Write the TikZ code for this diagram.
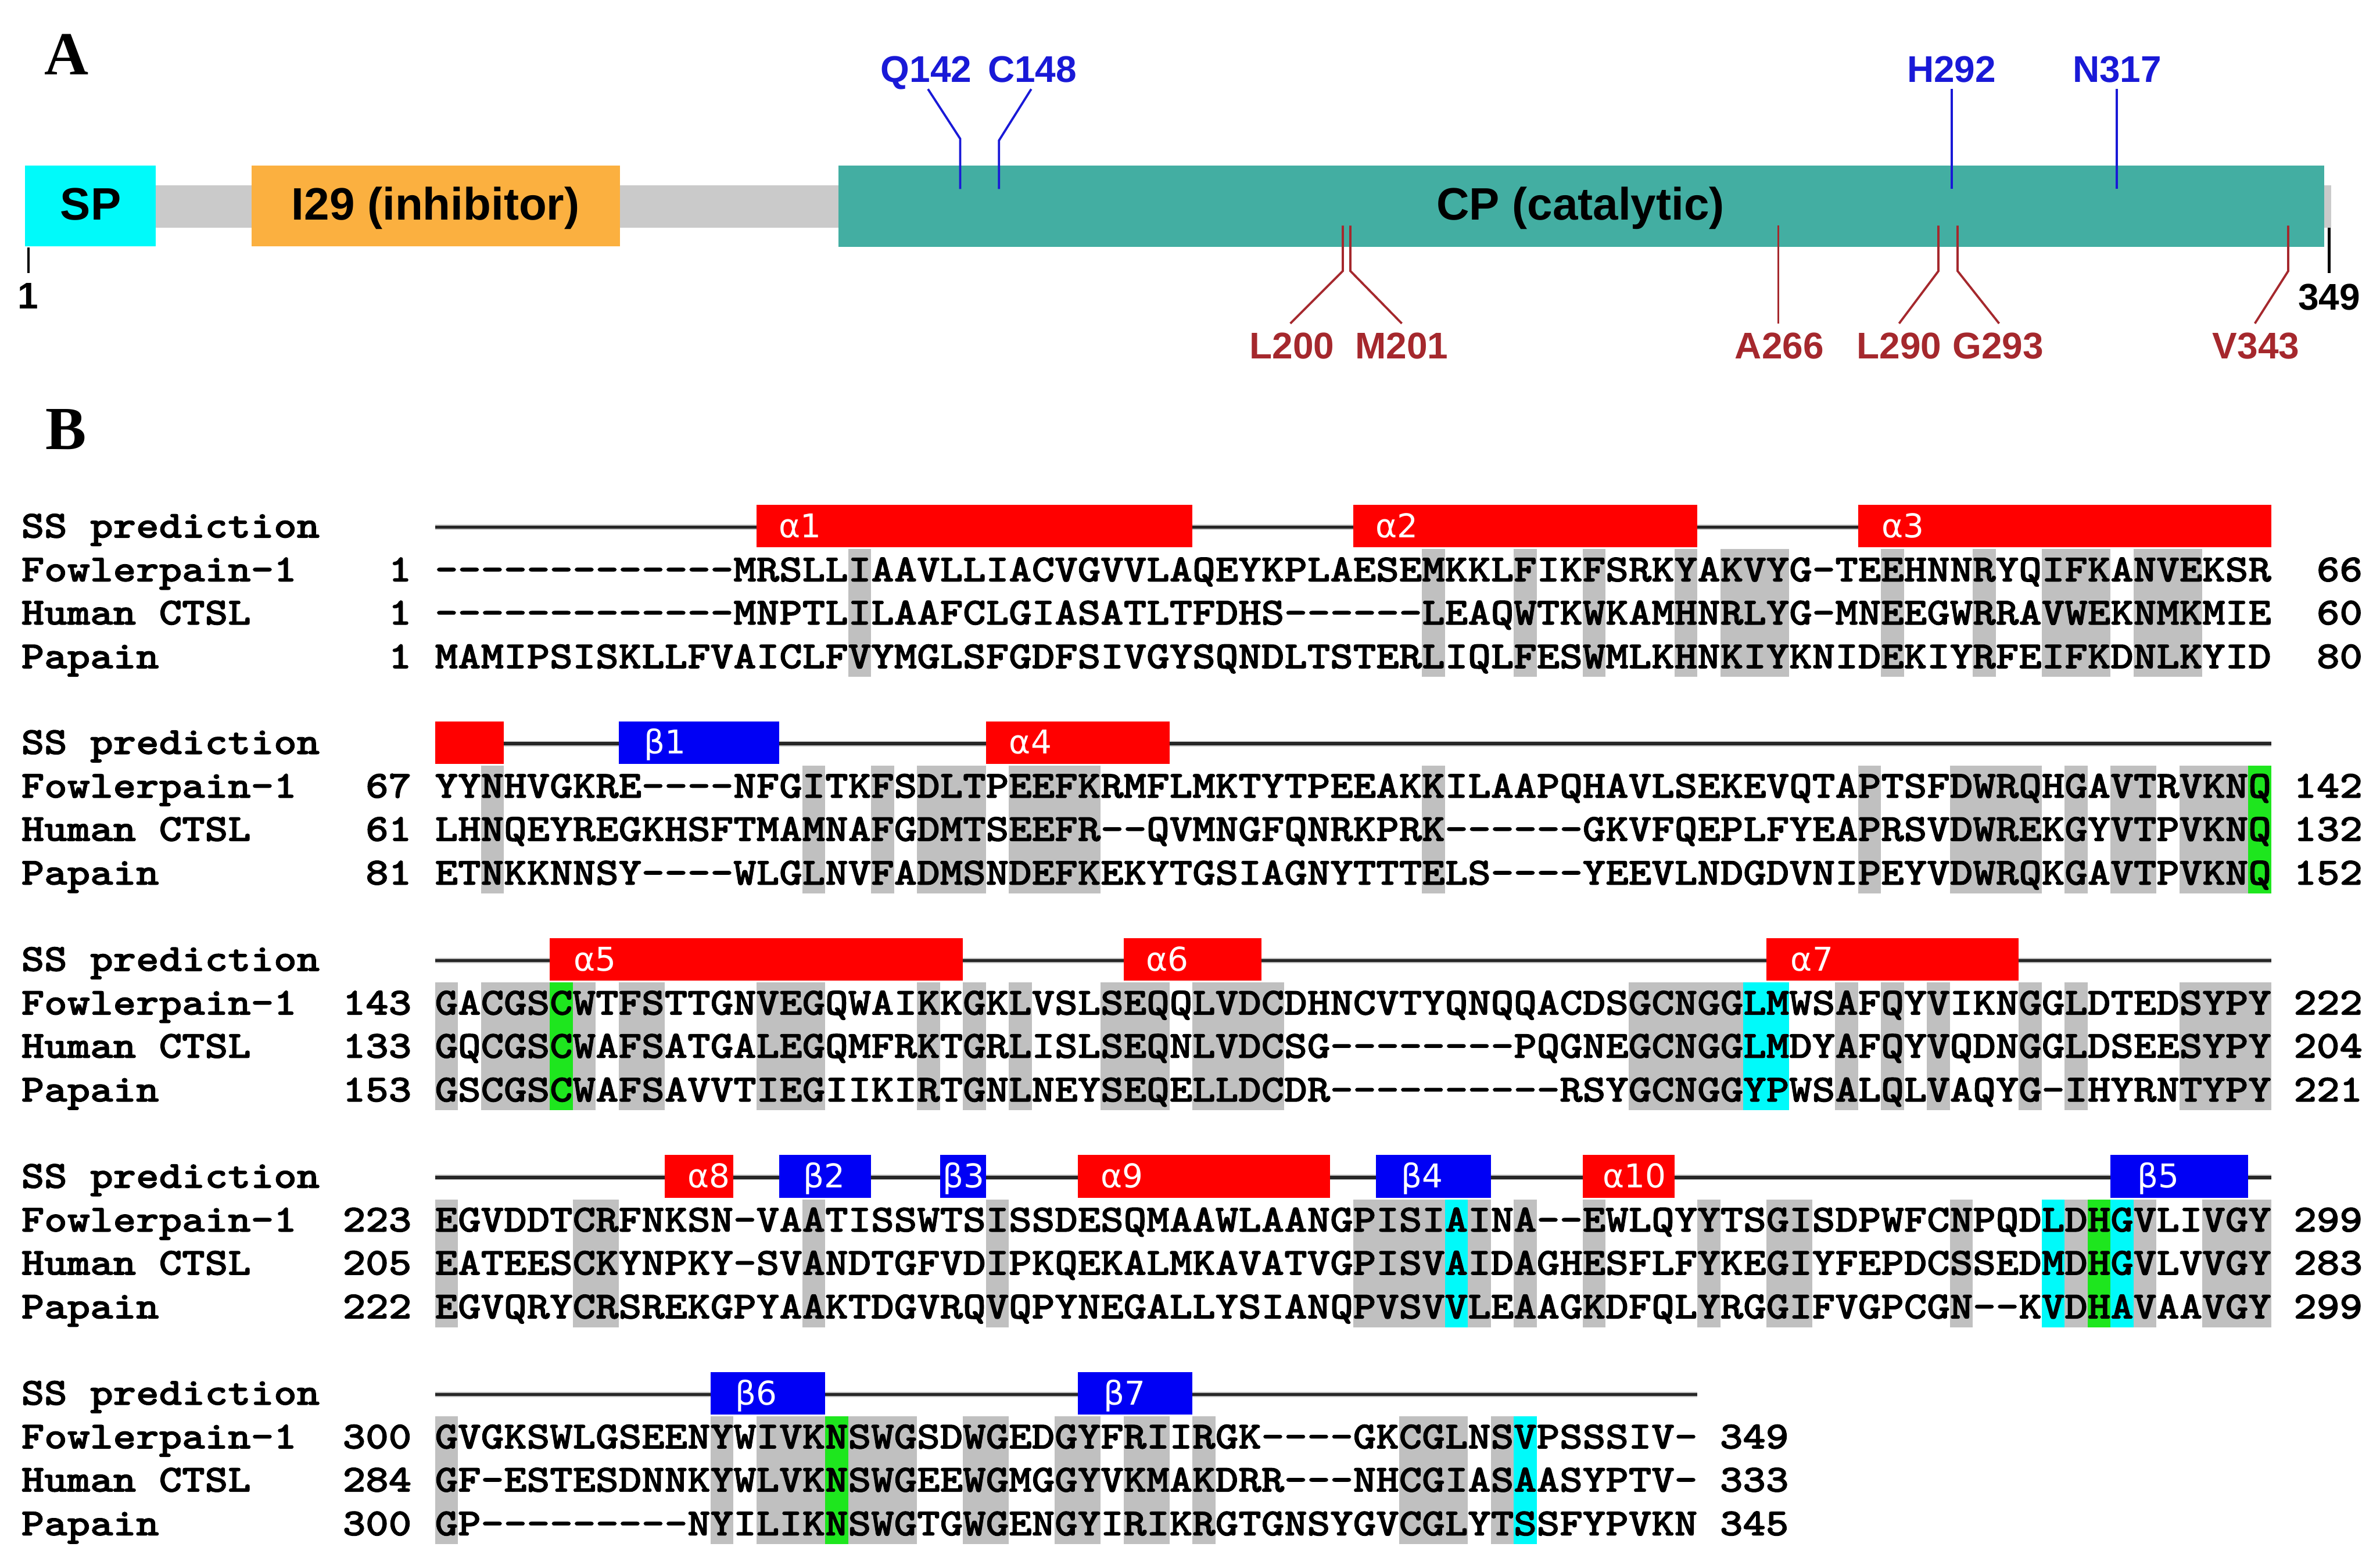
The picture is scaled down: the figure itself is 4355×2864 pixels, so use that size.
\documentclass[tikz,border=0pt]{standalone}
\usepackage{fontspec}
\usepackage{graphicx}
\setmainfont{Liberation Sans}
\newfontfamily\seqf{lmmonolt10-bold.otf}[Ligatures=TeXOff,FakeBold=1.6]
\newfontfamily\arialb{Liberation Sans}[Ligatures=TeXOff]
\newfontfamily\serifb{Liberation Serif}
\newfontfamily\dejavu{DejaVu Sans}
\definecolor{grc}{RGB}{192,192,192}
\definecolor{grn}{RGB}{30,230,30}
\definecolor{cyn}{RGB}{0,250,250}
\definecolor{hxred}{RGB}{255,0,0}
\definecolor{stblue}{RGB}{0,0,245}
\definecolor{cpteal}{RGB}{67,174,162}
\definecolor{orng}{RGB}{251,176,64}
\definecolor{bbgray}{RGB}{202,202,202}
\definecolor{siteblue}{RGB}{25,25,215}
\definecolor{sitered}{RGB}{165,40,45}
\newcommand\sq[1]{\scalebox{1}[0.88]{#1}}
\newcommand\seqrow[7]{%
  \node[seqtxt] (#1lab) at (39,#2) {\sq{#3}};
  \node[seqnum] (#1sn) at (753,#2) {\sq{#4}};
  \node[seqtxt] (#1seq) at (796,#2) {\sq{#5}};
  \node[seqnum] (#1en) at (#7,#2) {\sq{#6}};}
\newcommand\ssline[3]{%
  \draw[sshalo] (796,#2) -- (#3,#2);
  \draw[sscore] (796,#2) -- (#3,#2);
  \node[seqtxt] (#1) at (39,{#2+19}) {\sq{SS prediction}};}
\newcommand\ssbar[7]{%
  \fill[#2] ({796+(#4-1)*42},{#3-41}) rectangle ({796+#5*42},{#3+37});
  \node[sslab] (#1) at ({796+(#4-1)*42+#7},{#3+19}) {#6};}
\newcommand\hlcols[3]{\foreach \ca/\cb in {#3}{\fill[#1] ({796+(\ca-1)*42},{#2+40}) rectangle ({796+\cb*42},{#2+274});}}
\begin{document}
\begin{tikzpicture}[x=0.25pt,y=-0.25pt,
  seqtxt/.style={anchor=base west,inner sep=0pt,outer sep=0pt,font=\seqf\fontsize{20pt}{20pt}\selectfont},
  seqnum/.style={anchor=base east,inner sep=0pt,outer sep=0pt,font=\seqf\fontsize{20pt}{20pt}\selectfont},
  sslab/.style={anchor=base west,inner sep=0pt,text=white,font=\dejavu\fontsize{15pt}{15pt}\selectfont},
  sshalo/.style={line width=2.4pt,draw=black!25},
  sscore/.style={line width=1.4pt,draw=black!85},
  boxlab/.style={anchor=base,inner sep=0pt,font=\arialb\bfseries\fontsize{20.8pt}{20.8pt}\selectfont},
  sitelab/.style={anchor=base,inner sep=0pt,font=\arialb\bfseries\fontsize{17pt}{17pt}\selectfont},
  siteln/.style={line width=1pt},
  panlab/.style={anchor=base west,inner sep=0pt,font=\serifb\bfseries\fontsize{28pt}{28pt}\selectfont}]
\fill[white] (0,0) rectangle (4355,2864);
\useasboundingbox (0,0) rectangle (4355,2864);
% ---------------- Panel A ----------------
\node[panlab] (labA) at (81,137) {A};
\fill[bbgray] (285,339) rectangle (4266,417);
\fill[cyn] (46,303) rectangle (285,451);
\fill[orng] (460,303) rectangle (1134,451);
\fill[cpteal] (1534,303) rectangle (4253,452);
\node[boxlab] (sp) at (166,402) {SP};
\node[boxlab] (i29) at (797,402) {I29 (inhibitor)};
\node[boxlab] (cp) at (2892,402) {CP (catalytic)};
% blue sites
\draw[siteln,draw=siteblue] (1698,163) -- (1757,254) -- (1757,346);
\draw[siteln,draw=siteblue] (1887,163) -- (1828,257) -- (1828,346);
\draw[siteln,draw=siteblue] (3571,163) -- (3571,346);
\draw[siteln,draw=siteblue] (3873,163) -- (3873,346);
\node[sitelab,text=siteblue] (q142) at (1695,150) {Q142};
\node[sitelab,text=siteblue] (c148) at (1889,150) {C148};
\node[sitelab,text=siteblue] (h292) at (3571,150) {H292};
\node[sitelab,text=siteblue] (n317) at (3874,150) {N317};
% red sites
\draw[siteln,draw=sitered] (2457,413) -- (2457,496) -- (2361,592);
\draw[siteln,draw=sitered] (2471,413) -- (2471,496) -- (2565,592);
\draw[siteln,draw=sitered] (3254,413) -- (3254,592);
\draw[siteln,draw=sitered] (3547,413) -- (3547,496) -- (3475,592);
\draw[siteln,draw=sitered] (3582,413) -- (3582,496) -- (3658,592);
\draw[siteln,draw=sitered] (4187,413) -- (4187,496) -- (4126,592);
\node[sitelab,text=sitered] (l200) at (2364,656) {L200};
\node[sitelab,text=sitered] (m201) at (2565,656) {M201};
\node[sitelab,text=sitered] (a266) at (3256,656) {A266};
\node[sitelab,text=sitered] (l290) at (3475,656) {L290};
\node[sitelab,text=sitered] (g293) at (3656,656) {G293};
\node[sitelab,text=sitered] (v343) at (4128,656) {V343};
% ends
\draw[line width=1.2pt] (52,453) -- (52,500);
\draw[line width=1.2pt] (4262,417) -- (4262,500);
\node[sitelab] (n1) at (51,565) {1};
\node[sitelab] (n349) at (4262,567) {349};
% ---------------- Panel B ----------------
\node[panlab] (labB) at (83,822) {B};
% block 1
\ssline{ssA}{965}{4156}
\ssbar{a1}{hxred}{965}{15}{33}{α1}{40}
\ssbar{a2}{hxred}{965}{41}{55}{α2}{40}
\ssbar{a3}{hxred}{965}{63}{80}{α3}{42}
\hlcols{grc}{965}{19/19,44/44,48/48,51/51,55/55,57/59,64/64,68/68,71/73,75/77}
\seqrow{fA}{1064}{Fowlerpain-1}{1}{-------------MRSLLIAAVLLIACVGVVLAQEYKPLAESEMKKLFIKFSRKYAKVYG-TEEHNNRYQIFKANVEKSR}{66}{4323}
\seqrow{hA}{1143}{Human CTSL}{1}{-------------MNPTLILAAFCLGIASATLTFDHS------LEAQWTKWKAMHNRLYG-MNEEGWRRAVWEKNMKMIE}{60}{4323}
\seqrow{pA}{1223}{Papain}{1}{MAMIPSISKLLFVAICLFVYMGLSFGDFSIVGYSQNDLTSTERLIQLFESWMLKHNKIYKNIDEKIYRFEIFKDNLKYID}{80}{4323}
% block 2
\ssline{ssB}{1361}{4156}
\ssbar{r0}{hxred}{1361}{1}{3}{}{40}
\ssbar{b1}{stblue}{1361}{9}{15}{β1}{46}
\ssbar{a4}{hxred}{1361}{25}{32}{α4}{42}
\hlcols{grc}{1361}{3/3,17/17,20/20,22/24,26/29,44/44,63/63,67/70,72/72,74/75,77/79}
\hlcols{grn}{1361}{80/80}
\seqrow{fB}{1460}{Fowlerpain-1}{67}{YYNHVGKRE----NFGITKFSDLTPEEFKRMFLMKTYTPEEAKKILAAPQHAVLSEKEVQTAPTSFDWRQHGAVTRVKNQ}{142}{4323}
\seqrow{hB}{1539}{Human CTSL}{61}{LHNQEYREGKHSFTMAMNAFGDMTSEEFR--QVMNGFQNRKPRK------GKVFQEPLFYEAPRSVDWREKGYVTPVKNQ}{132}{4323}
\seqrow{pB}{1619}{Papain}{81}{ETNKKNNSY----WLGLNVFADMSNDEFKEKYTGSIAGNYTTTELS----YEEVLNDGDVNIPEYVDWRQKGAVTPVKNQ}{152}{4323}
% block 3
\ssline{ssC}{1758}{4156}
\ssbar{a5}{hxred}{1758}{6}{23}{α5}{43}
\ssbar{a6}{hxred}{1758}{31}{36}{α6}{40}
\ssbar{a7}{hxred}{1758}{59}{69}{α7}{44}
\hlcols{grc}{1758}{1/1,3/5,7/7,9/10,15/17,22/22,24/24,26/26,30/32,34/37,53/57,62/62,64/64,66/66,70/70,72/72,77/80}
\hlcols{grn}{1758}{6/6}
\hlcols{cyn}{1758}{58/59}
\seqrow{fC}{1857}{Fowlerpain-1}{143}{GACGSCWTFSTTGNVEGQWAIKKGKLVSLSEQQLVDCDHNCVTYQNQQACDSGCNGGLMWSAFQYVIKNGGLDTEDSYPY}{222}{4323}
\seqrow{hC}{1936}{Human CTSL}{133}{GQCGSCWAFSATGALEGQMFRKTGRLISLSEQNLVDCSG--------PQGNEGCNGGLMDYAFQYVQDNGGLDSEESYPY}{204}{4323}
\seqrow{pC}{2016}{Papain}{153}{GSCGSCWAFSAVVTIEGIIKIRTGNLNEYSEQELLDCDR----------RSYGCNGGYPWSALQLVAQYG-IHYRNTYPY}{221}{4323}
% block 4
\ssline{ssD}{2155}{4156}
\ssbar{a8}{hxred}{2155}{11}{13}{α8}{41}
\ssbar{b2}{stblue}{2155}{16}{19}{β2}{43}
\ssbar{b3}{stblue}{2155}{23}{24}{β3}{4}
\ssbar{a9}{hxred}{2155}{29}{39}{α9}{41}
\ssbar{b4}{stblue}{2155}{42}{46}{β4}{45}
\ssbar{a10}{hxred}{2155}{51}{54}{α10}{36}
\ssbar{b5}{stblue}{2155}{74}{79}{β5}{48}
\hlcols{grc}{2155}{1/1,7/8,17/17,25/25,41/44,46/46,48/48,51/51,56/56,59/60,67/67,72/72,75/75,78/80}
\hlcols{cyn}{2155}{45/45,71/71,74/74}
\hlcols{grn}{2155}{73/73}
\seqrow{fD}{2254}{Fowlerpain-1}{223}{EGVDDTCRFNKSN-VAATISSWTSISSDESQMAAWLAANGPISIAINA--EWLQYYTSGISDPWFCNPQDLDHGVLIVGY}{299}{4323}
\seqrow{hD}{2333}{Human CTSL}{205}{EATEESCKYNPKY-SVANDTGFVDIPKQEKALMKAVATVGPISVAIDAGHESFLFYKEGIYFEPDCSSEDMDHGVLVVGY}{283}{4323}
\seqrow{pD}{2413}{Papain}{222}{EGVQRYCRSREKGPYAAKTDGVRQVQPYNEGALLYSIANQPVSVVLEAAGKDFQLYRGGIFVGPCGN--KVDHAVAAVGY}{299}{4323}
% block 5
\ssline{ssE}{2552}{3106}
\ssbar{b6}{stblue}{2552}{13}{17}{β6}{45}
\ssbar{b7}{stblue}{2552}{29}{33}{β7}{47}
\hlcols{grc}{2552}{1/1,13/13,15/17,19/21,24/25,28/29,31/32,34/34,43/45,47/47}
\hlcols{grn}{2552}{18/18}
\hlcols{cyn}{2552}{48/48}
\seqrow{fE}{2651}{Fowlerpain-1}{300}{GVGKSWLGSEENYWIVKNSWGSDWGEDGYFRIIRGK----GKCGLNSVPSSSIV-}{349}{3273}
\seqrow{hE}{2730}{Human CTSL}{284}{GF-ESTESDNNKYWLVKNSWGEEWGMGGYVKMAKDRR---NHCGIASAASYPTV-}{333}{3273}
\seqrow{pE}{2810}{Papain}{300}{GP---------NYILIKNSWGTGWGENGYIRIKRGTGNSYGVCGLYTSSFYPVKN}{345}{3273}
\end{tikzpicture}
\end{document}
